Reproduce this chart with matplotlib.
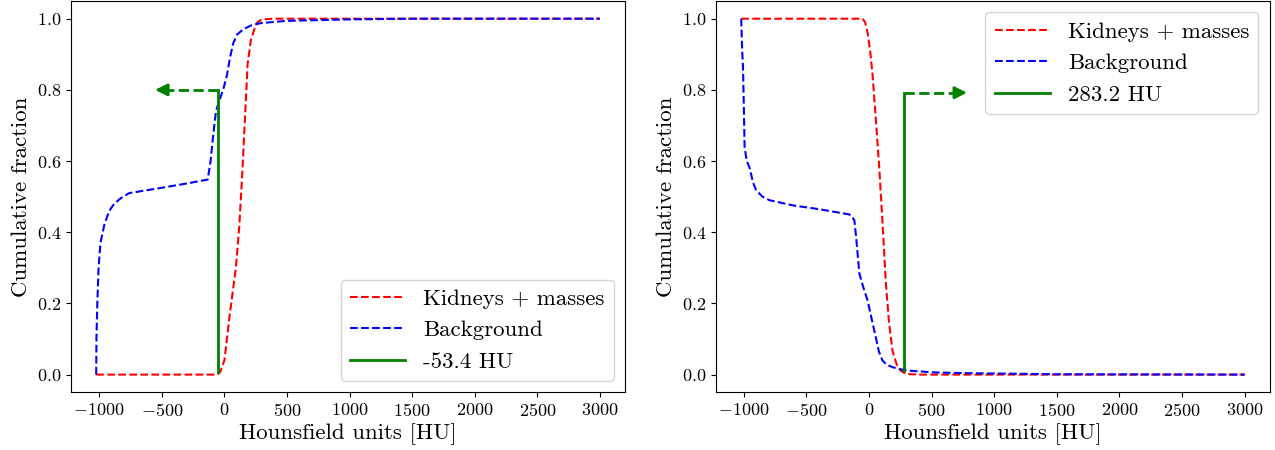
import numpy as np
import matplotlib
matplotlib.use('Agg')
import matplotlib.pyplot as plt

plt.rcParams['font.family'] = 'serif'
plt.rcParams['font.serif'] = ['cmr10']
plt.rcParams['mathtext.fontset'] = 'cm'
plt.rcParams['axes.formatter.use_mathtext'] = True

# Left panel: cumulative fractions
hu_bg_l = [-1024, -1022, -1015, -1005, -990, -960, -920, -880, -830, -760, -500, -300, -133,
           -110, -90, -67, -40, -10, 20, 45, 70, 100, 150, 225, 300, 500, 1000, 1500, 3000]
bg_l = [0.0, 0.10, 0.20, 0.30, 0.37, 0.42, 0.46, 0.48, 0.495, 0.51, 0.525, 0.537, 0.548,
        0.60, 0.67, 0.74, 0.77, 0.80, 0.84, 0.89, 0.93, 0.955, 0.97, 0.983, 0.988, 0.994, 0.998, 1.0, 1.0]
hu_kid_l = [-1024, -60, -45, -30, 0, 13, 40, 66, 92, 119, 146, 159, 172, 185, 212, 239, 265, 300, 400, 3000]
kid_l = [0.0, 0.0, 0.003, 0.01, 0.04, 0.077, 0.16, 0.23, 0.30, 0.415, 0.584, 0.68, 0.77, 0.87,
         0.94, 0.97, 0.99, 0.998, 1.0, 1.0]
thr_l = -53.4
thr_l_lo, thr_l_hi = 0.006, 0.80

# Right panel: complementary fractions
hu_bg_r = [-1019, -1015, -1010, -1005, -998, -992, -975, -951, -925, -900, -850, -793, -600, -400,
           -156, -140, -116, -100, -76, -40, -10, 20, 55, 80, 108, 140, 188, 250, 321, 530, 800, 1500, 3000]
bg_r = [1.0, 0.95, 0.90, 0.866, 0.75, 0.64, 0.60, 0.58, 0.54, 0.518, 0.50, 0.49, 0.475, 0.465,
        0.45, 0.445, 0.434, 0.38, 0.284, 0.24, 0.208, 0.16, 0.105, 0.065, 0.04, 0.028, 0.021, 0.015,
        0.011, 0.006, 0.004, 0.001, 0.0]
hu_kid_r = [-1019, -50, -30, -10, 10, 30, 55, 83, 110, 136, 160, 188, 220, 254, 294, 400, 3000]
kid_r = [1.0, 1.0, 0.99, 0.96, 0.91, 0.84, 0.72, 0.58, 0.42, 0.255, 0.15, 0.068, 0.03, 0.011,
         0.002, 0.0, 0.0]
thr_r = 283.2
thr_r_lo, thr_r_hi = 0.011, 0.792

fig = plt.figure(figsize=(12.75, 4.5), dpi=100)
ax1 = fig.add_axes([0.0557, 0.128, 0.4345, 0.870])
ax2 = fig.add_axes([0.5616, 0.128, 0.4344, 0.870])


def panel(ax, hu_k, k, hu_b, b, thr, lo, hi, direction, loc):
    ax.plot(hu_k, k, 'r--', lw=1.5, label='Kidneys + masses')
    ax.plot(hu_b, b, 'b--', lw=1.5, label='Background')
    ax.plot([thr, thr], [lo, hi], color='green', lw=2, label=f'{thr} HU')
    end = thr + direction * 500
    ax.plot([thr, end - direction * 60], [hi, hi], color='green', lw=2, ls='--')
    ax.annotate('', xy=(end, hi), xytext=(end - direction * 70, hi),
                arrowprops=dict(arrowstyle='-|>', color='green', lw=2,
                                mutation_scale=18, shrinkA=0, shrinkB=0))
    ax.set_xticks(np.arange(-1000, 3001, 500))
    ax.set_yticks(np.arange(0, 1.01, 0.2))
    ax.tick_params(labelsize=13)
    ax.set_xlabel('Hounsfield units [HU]', fontsize=16.5, labelpad=3)
    ax.legend(loc=loc, fontsize=16.5, handlelength=2.4)


panel(ax1, hu_kid_l, kid_l, hu_bg_l, bg_l, thr_l, thr_l_lo, thr_l_hi, -1, 'lower right')
panel(ax2, hu_kid_r, kid_r, hu_bg_r, bg_r, thr_r, thr_r_lo, thr_r_hi, 1, 'upper right')
ax1.set_ylabel('Cumulative fraction', fontsize=16.5)
ax2.set_ylabel('Cumulative fraction', fontsize=16.5)

fig.savefig('out.png', dpi=100)
